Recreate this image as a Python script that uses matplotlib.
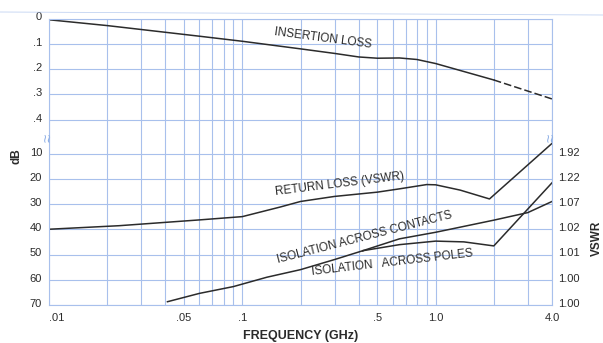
import matplotlib.pyplot as plt
import matplotlib.ticker as ticker
import matplotlib.transforms as mtransforms
from matplotlib.lines import Line2D

plt.rcParams['font.family'] = ['Liberation Sans', 'DejaVu Sans']

# insertion loss (dB), solid part and dashed extrapolation
il_freq = [0.01, 0.02, 0.06, 0.1, 0.2, 0.3, 0.4, 0.5, 0.65, 0.8, 1.0, 2.0]
il_db = [0.005, 0.028, 0.07, 0.09, 0.12, 0.138, 0.152, 0.157, 0.156, 0.162, 0.178, 0.243]
il_ext_freq = [2.0, 4.0]
il_ext_db = [0.243, 0.318]

# return loss (dB)
rl_freq = [0.01, 0.023, 0.06, 0.1, 0.157, 0.2, 0.3, 0.5, 0.65, 0.9, 1.0, 1.34, 1.9, 4.0]
rl_db = [40, 38.6, 36.3, 35, 31.2, 29, 27, 25.3, 24, 22.3, 22.4, 24.5, 28, 6]

# isolation, common part then split into contacts / poles
iso_freq = [0.041, 0.06, 0.09, 0.134, 0.2, 0.3, 0.42]
iso_db = [68.7, 65.4, 62.7, 59, 56, 52, 48.5]
contacts_freq = [0.42, 0.65, 1.0, 2.0, 3.0, 4.0]
contacts_db = [48.5, 43.8, 41.2, 36.4, 33.4, 29]
poles_freq = [0.42, 0.65, 1.0, 1.4, 2.0, 4.0]
poles_db = [48.5, 46.1, 44.7, 45, 46.6, 21.6]

top_ticks = [0, 0.1, 0.2, 0.3, 0.4]
top_labels = ['0', '.1', '.2', '.3', '.4']
db_ticks = [10, 20, 30, 40, 50, 60, 70]
db_labels = ['10', '20', '30', '40', '50', '60', '70']
vswr_labels = ['1.92', '1.22', '1.07', '1.02', '1.01', '1.00', '1.00']
freq_ticks = [0.01, 0.05, 0.1, 0.5, 1.0, 4.0]
freq_labels = ['.01', '.05', '.1', '.5', '1.0', '4.0']

grid_color = '#a8c0ec'
ink = '#2b2b2b'

W, H = 603, 343
fig = plt.figure(figsize=(W / 100, H / 100), dpi=100)

# axes geometry in pixels
x0, x1 = 49, 552
y_top, y_break, y_bot = 18.5, 137, 305

ax_top = fig.add_axes([x0 / W, 1 - y_break / H, (x1 - x0) / W, (y_break - y_top) / H])
ax_bot = fig.add_axes([x0 / W, 1 - y_bot / H, (x1 - x0) / W, (y_bot - y_break) / H])

for ax in (ax_top, ax_bot):
    ax.set_xscale('log')
    ax.set_xlim(0.01, 4.0)
    ax.xaxis.set_minor_locator(ticker.LogLocator(base=10, subs=range(2, 10)))
    ax.xaxis.set_minor_formatter(ticker.NullFormatter())
    ax.grid(True, which='both', axis='x', color=grid_color, lw=0.8)
    ax.grid(True, which='major', axis='y', color=grid_color, lw=0.8)
    ax.tick_params(which='both', length=0, labelsize=8, labelcolor=ink)
    for s in ax.spines.values():
        s.set_color(grid_color)
        s.set_linewidth(0.8)
    ax.set_facecolor('none')

ax_top.spines['bottom'].set_visible(False)
ax_bot.spines['top'].set_visible(False)

# top panel: insertion loss
ax_top.set_ylim((y_break - y_top) / 253, 0)
ax_top.set_yticks(top_ticks, top_labels)
ax_top.set_xticks(freq_ticks, [''] * len(freq_ticks))
ax_top.plot(il_freq, il_db, color=ink, lw=1.1)
ax_top.plot(il_ext_freq, il_ext_db, color=ink, lw=1.1, ls=(0, (5, 2)))

# bottom panel
ax_bot.set_ylim(70, 10 - (153.5 - y_break) / 2.525)
ax_bot.set_yticks(db_ticks, db_labels)
ax_bot.set_xticks(freq_ticks, freq_labels)
ax_bot.tick_params(axis='y', pad=5)
ax_bot.tick_params(axis='x', pad=6)
ax_top.tick_params(axis='y', pad=5)
ax_bot.get_xticklabels()[0].set_horizontalalignment('left')

ax_bot.plot(rl_freq, rl_db, color=ink, lw=1.1)
ax_bot.plot(iso_freq, iso_db, color=ink, lw=1.1)
ax_bot.plot(contacts_freq, contacts_db, color=ink, lw=1.1)
ax_bot.plot(poles_freq, poles_db, color=ink, lw=1.1)

# VSWR scale on the right
ax_v = ax_bot.twinx()
ax_v.set_ylim(ax_bot.get_ylim())
ax_v.set_yticks(db_ticks, vswr_labels)
ax_v.tick_params(length=0, labelsize=8, labelcolor=ink, pad=4.5)
for s in ax_v.spines.values():
    s.set_visible(False)

# nudge y tick labels slightly up
up = mtransforms.ScaledTranslation(0, 2 / 100, fig.dpi_scale_trans)
for ax in (ax_top, ax_bot, ax_v):
    for lab in ax.get_yticklabels():
        lab.set_transform(lab.get_transform() + up)

# curve labels
lab_kw = dict(color=ink, fontsize=8.5, ha='center', va='center', rotation_mode='anchor')
ax_top.text(0.262, 0.077, 'INSERTION LOSS', rotation=-7.5, **lab_kw)
ax_bot.text(0.32, 22.3, 'RETURN LOSS (VSWR)', rotation=7, **lab_kw)
ax_bot.text(0.43, 43.2, 'ISOLATION ACROSS CONTACTS', rotation=14.5, **lab_kw)
ax_bot.text(0.60, 53.4, 'ISOLATION   ACROSS POLES', rotation=6.6, **lab_kw)

# axis titles
fig.text(17 / W, 1 - 156 / H, 'dB', rotation=90, fontsize=8.5, fontweight='bold',
         color=ink, ha='center', va='center')
fig.text(597 / W, 1 - 238 / H, 'VSWR', rotation=90, fontsize=8.5, fontweight='bold',
         color=ink, ha='center', va='center')
fig.text(301 / W, 1 - 336 / H, 'FREQUENCY (GHz)', fontsize=9, fontweight='bold',
         color=ink, ha='center', va='center')

# axis break marks
for xb in (x0, x1):
    fig.text(xb / W, 1 - 138 / H, '≈', rotation=90, fontsize=11, color='#8fb0e6',
             ha='center', va='center')

# faint page line at the top
fig.add_artist(Line2D([0, 1], [1 - 12 / H, 1 - 15 / H], color=grid_color, lw=0.6,
                      alpha=0.7, transform=fig.transFigure))

fig.savefig('out.png', dpi=100)
